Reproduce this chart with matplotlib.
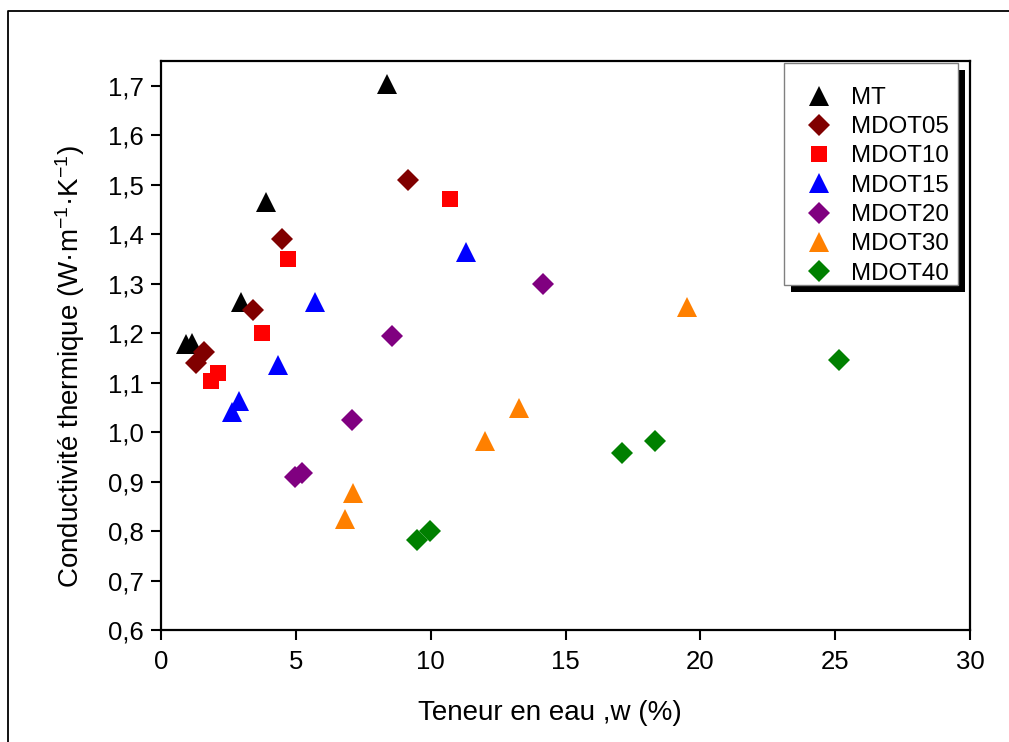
import matplotlib
matplotlib.use("Agg")
import matplotlib.pyplot as plt
from matplotlib.patches import Rectangle
from matplotlib.lines import Line2D

plt.rcParams['font.family'] = ['Liberation Sans', 'DejaVu Sans']
plt.rcParams['mathtext.fontset'] = 'custom'
plt.rcParams['mathtext.rm'] = 'Liberation Sans'
plt.rcParams['mathtext.it'] = 'Liberation Sans:italic'
plt.rcParams['mathtext.bf'] = 'Liberation Sans:bold'

# ---- data ----
series_names = ["MT", "MDOT05", "MDOT10", "MDOT15", "MDOT20", "MDOT30", "MDOT40"]
mt_x = [0.93, 1.14, 2.97, 3.88, 8.38]
mt_y = [1.179, 1.180, 1.263, 1.465, 1.703]
mdot05_x = [1.29, 1.61, 3.42, 4.47, 9.15]
mdot05_y = [1.140, 1.162, 1.246, 1.390, 1.509]
mdot10_x = [1.87, 2.10, 3.74, 4.72, 10.72]
mdot10_y = [1.104, 1.119, 1.200, 1.349, 1.471]
mdot15_x = [2.62, 2.90, 4.33, 5.70, 11.31]
mdot15_y = [1.041, 1.063, 1.135, 1.263, 1.364]
mdot20_x = [4.97, 5.22, 7.08, 8.58, 14.16]
mdot20_y = [0.910, 0.918, 1.024, 1.194, 1.300]
mdot30_x = [6.83, 7.11, 12.01, 13.26, 19.49]
mdot30_y = [0.824, 0.877, 0.982, 1.049, 1.253]
mdot40_x = [9.49, 9.99, 17.10, 18.32, 25.14]
mdot40_y = [0.782, 0.801, 0.958, 0.982, 1.145]

x_ticks = [0, 5, 10, 15, 20, 25, 30]
y_ticks = [0.6, 0.7, 0.8, 0.9, 1.0, 1.1, 1.2, 1.3, 1.4, 1.5, 1.6, 1.7]
y_tick_labels = ["0,6", "0,7", "0,8", "0,9", "1,0", "1,1", "1,2", "1,3", "1,4", "1,5", "1,6", "1,7"]

xs = [mt_x, mdot05_x, mdot10_x, mdot15_x, mdot20_x, mdot30_x, mdot40_x]
ys = [mt_y, mdot05_y, mdot10_y, mdot15_y, mdot20_y, mdot30_y, mdot40_y]
colors = ["#000000", "#800000", "#FF0000", "#0000FF", "#800080", "#FF8000", "#008000"]
markers = ["^", "D", "s", "^", "D", "^", "D"]
msizes = [14.5, 11, 11, 14.5, 11, 14.5, 11]

W, H = 1009, 742
fig = plt.figure(figsize=(W / 100, H / 100), dpi=100)
AX_L, AX_R, AX_T, AX_B = 161, 970, 61, 630
ax = fig.add_axes([AX_L / W, (H - AX_B) / H, (AX_R - AX_L) / W, (AX_B - AX_T) / H])


def px2ax(px, py):
    return ((px - AX_L) / (AX_R - AX_L), (AX_B - py) / (AX_B - AX_T))


for name, x, y, c, m, ms in zip(series_names, xs, ys, colors, markers, msizes):
    ax.plot(x, y, linestyle='none', marker=m, markersize=ms, color=c,
            markeredgewidth=0, label=name)

ax.set_xlim(0, 30)
ax.set_ylim(0.6, 1.75)
ax.set_xticks(x_ticks)
ax.set_xticklabels([str(t) for t in x_ticks])
ax.set_yticks(y_ticks)
ax.set_yticklabels(y_tick_labels)
ax.tick_params(axis='both', direction='out', length=7.5, width=1.5,
               labelsize=18.5, color='black')
ax.tick_params(axis='x', pad=7)
ax.tick_params(axis='y', pad=5)
for s in ax.spines.values():
    s.set_linewidth(1.6)

fig.text(550 / W, 1 - 713 / H, "Teneur en eau ,w (%)", ha='center', va='center', fontsize=20)
fig.text(70 / W, 1 - 366 / H, "Conductivité thermique (W·m$^{-1}$·K$^{-1}$)",
         ha='center', va='center', rotation=90, fontsize=20)

# legend frame + shadow drawn at fixed pixel positions
LB_L, LB_T, LB_R, LB_B = 784, 63, 958, 285
SH = 7
sx0, sy0 = px2ax(LB_L + SH, LB_B + SH)
sx1, sy1 = px2ax(LB_R + SH, LB_T + SH)
ax.add_patch(Rectangle((sx0, sy0), sx1 - sx0, sy1 - sy0, transform=ax.transAxes,
                       facecolor='black', edgecolor='none', zorder=5.0, clip_on=False))
fx0, fy0 = px2ax(LB_L, LB_B)
fx1, fy1 = px2ax(LB_R, LB_T)
ax.add_patch(Rectangle((fx0, fy0), fx1 - fx0, fy1 - fy0, transform=ax.transAxes,
                       facecolor='white', edgecolor='#808080', linewidth=1.0,
                       zorder=5.1, clip_on=False))

leg = ax.legend(loc='upper left', bbox_to_anchor=px2ax(804.5, 87),
                borderaxespad=0, borderpad=0, fontsize=17.4, frameon=False,
                labelspacing=0.3, handlelength=1.2, handletextpad=0.72)
leg.set_zorder(6)

# outer frame (left and top edges)
fig.add_artist(Line2D([8 / W, 8 / W, 1.0], [0.0, 1 - 11 / H, 1 - 11 / H],
                      transform=fig.transFigure, color='black', linewidth=1.3))

fig.savefig("out.png", dpi=100)
